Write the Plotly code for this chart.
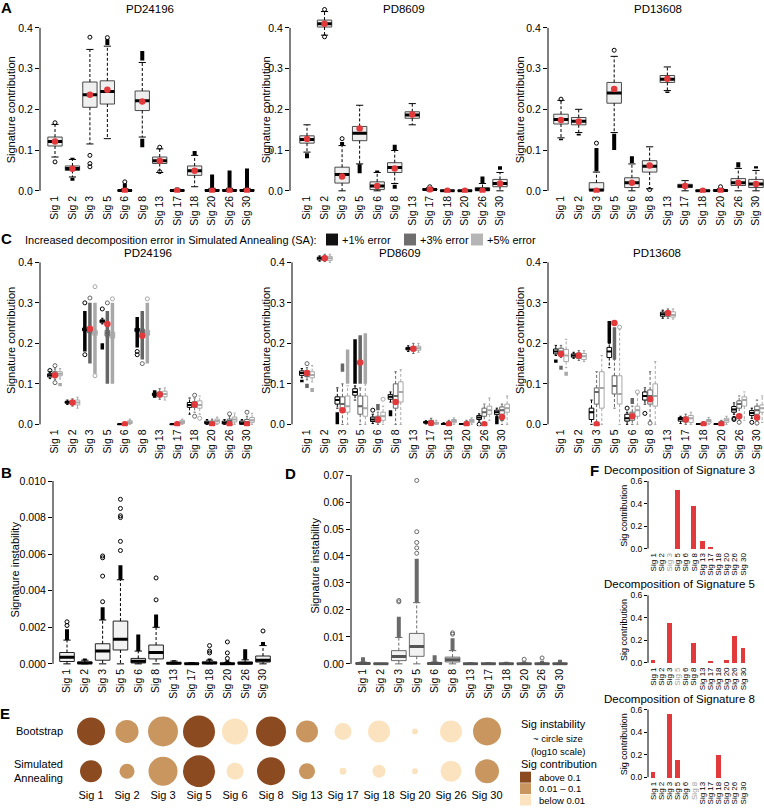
import math
import plotly.graph_objects as go

W, H = 764, 808
FONT = "Liberation Sans, Arial, Helvetica, sans-serif"

SIGS = ["Sig 1", "Sig 2", "Sig 3", "Sig 5", "Sig 6", "Sig 8", "Sig 13",
        "Sig 17", "Sig 18", "Sig 20", "Sig 26", "Sig 30"]

# ---------------- Panel A : bootstrap distributions (lo, q1, median, q3, hi)
A_PD24196 = [(0.083, 0.110, 0.121, 0.132, 0.163), (0.034, 0.050, 0.055, 0.061, 0.077),
             (0.115, 0.205, 0.236, 0.267, 0.347), (0.128, 0.213, 0.244, 0.270, 0.355),
             (0.0, 0.0, 0.0005, 0.002, 0.005), (0.132, 0.197, 0.221, 0.245, 0.315),
             (0.045, 0.067, 0.074, 0.083, 0.103), (0.0, 0.0, 0.0005, 0.002, 0.004),
             (0.010, 0.038, 0.049, 0.061, 0.087), (0.0, 0.0, 0.001, 0.003, 0.006),
             (0.0, 0.0, 0.001, 0.003, 0.006), (0.0, 0.0, 0.001, 0.003, 0.006)]
A_PD24196_DENSE = [[], [(0.025, 0.032), (0.078, 0.081)], [], [(0.358, 0.372)], [(0.006, 0.018)],
                   [(0.32, 0.343), (0.107, 0.128)], [], [(0.005, 0.008)], [(0.088, 0.098)],
                   [(0.007, 0.040)], [(0.007, 0.050)], [(0.007, 0.055)]]
A_PD24196_OUT = [[0.167, 0.071], [], [0.377, 0.087, 0.067, 0.059], [0.376], [0.022], [], [0.107, 0.047],
                 [], [], [], [], []]
A_PD24196_RED = [0.121, 0.054, 0.236, 0.248, 0.0, 0.219, 0.074, 0.0, 0.049, 0.0, 0.0, 0.0]

A_PD8609 = [(0.095, 0.117, 0.126, 0.135, 0.162), (0.382, 0.402, 0.410, 0.419, 0.440),
            (0.0, 0.019, 0.040, 0.058, 0.111), (0.066, 0.123, 0.141, 0.158, 0.210),
            (0.0, 0.003, 0.012, 0.022, 0.045), (0.018, 0.045, 0.057, 0.069, 0.099),
            (0.162, 0.178, 0.186, 0.194, 0.214), (0.0, 0.002, 0.003, 0.005, 0.008),
            (0.0, 0.0, 0.0003, 0.001, 0.002), (0.0, 0.0, 0.0003, 0.001, 0.002),
            (0.0, 0.0, 0.003, 0.008, 0.018), (0.0, 0.010, 0.018, 0.028, 0.045)]
A_PD8609_DENSE = [[(0.080, 0.092)], [], [(0.112, 0.120)], [(0.043, 0.065)], [(0.046, 0.050)],
                  [(0.100, 0.113), (0.005, 0.015)], [], [], [], [], [(0.019, 0.035)], [(0.052, 0.060)]]
A_PD8609_OUT = [[], [0.445, 0.378], [0.128], [], [], [], [], [0.010], [], [], [], []]
A_PD8609_RED = [0.127, 0.410, 0.035, 0.153, 0.012, 0.055, 0.187, 0.003, 0.0, 0.0, 0.0, 0.018]

A_PD13608 = [(0.130, 0.164, 0.175, 0.188, 0.222), (0.143, 0.162, 0.171, 0.180, 0.200),
             (0.0, 0.0, 0.002, 0.020, 0.046), (0.143, 0.215, 0.240, 0.266, 0.330),
             (0.0, 0.008, 0.020, 0.032, 0.066), (0.005, 0.046, 0.060, 0.074, 0.108),
             (0.246, 0.266, 0.274, 0.283, 0.304), (0.0, 0.008, 0.012, 0.016, 0.025),
             (0.0, 0.0, 0.0003, 0.001, 0.002), (0.0, 0.0, 0.0005, 0.002, 0.005),
             (0.0, 0.013, 0.020, 0.030, 0.055), (0.0, 0.008, 0.017, 0.028, 0.050)]
A_PD13608_DENSE = [[(0.124, 0.128)], [(0.136, 0.140)], [(0.048, 0.105)], [(0.100, 0.140)],
                   [(0.068, 0.085)], [], [(0.240, 0.244)], [], [], [], [(0.057, 0.070)], [(0.055, 0.060)]]
A_PD13608_OUT = [[0.225], [], [0.117], [0.345], [], [0.003], [], [], [], [0.010], [], []]
A_PD13608_RED = [0.174, 0.170, 0.0, 0.250, 0.020, 0.062, 0.275, 0.012, 0.0, 0.0, 0.020, 0.017]

# ---------------- Panel C : SA with increased error (+1%, +3%, +5%)
C_PD24196_1 = [(0.113, 0.117, 0.121, 0.125, 0.130), (0.049, 0.052, 0.055, 0.057, 0.060),
               (0.228, 0.231, 0.234, 0.238, 0.242), (0.248, 0.251, 0.255, 0.258, 0.262),
               (0.0, 0.0, 0.0, 0.001, 0.002), (0.226, 0.229, 0.233, 0.237, 0.241),
               (0.068, 0.071, 0.074, 0.077, 0.080), (0.0, 0.0, 0.0, 0.001, 0.002),
               (0.025, 0.042, 0.048, 0.054, 0.065), (0.0, 0.001, 0.004, 0.008, 0.012),
               (0.0, 0.001, 0.004, 0.008, 0.012), (0.0, 0.0, 0.003, 0.008, 0.012)]
C_PD24196_1_DENSE = [[], [], [(0.180, 0.280)], [(0.185, 0.200)], [], [(0.190, 0.265)],
                     [(0.066, 0.084)], [], [], [], [], []]
C_PD24196_1_OUT = [[0.133], [], [0.172, 0.300], [0.285], [], [0.172, 0.180], [], [], [], [], [], []]
C_PD24196_3 = [(0.110, 0.118, 0.124, 0.130, 0.137), (0.045, 0.050, 0.054, 0.058, 0.063),
               (0.215, 0.226, 0.232, 0.240, 0.250), (0.210, 0.218, 0.225, 0.232, 0.240),
               (0.0, 0.0, 0.001, 0.002, 0.004), (0.212, 0.222, 0.228, 0.235, 0.245),
               (0.062, 0.068, 0.074, 0.080, 0.088), (0.0, 0.0, 0.001, 0.003, 0.006),
               (0.030, 0.042, 0.049, 0.056, 0.065), (0.0, 0.001, 0.004, 0.008, 0.013),
               (0.0, 0.003, 0.008, 0.013, 0.020), (0.0, 0.002, 0.006, 0.012, 0.020)]
C_PD24196_3_DENSE = [[], [], [(0.150, 0.300)], [(0.100, 0.280)], [], [(0.160, 0.280)],
                     [], [], [], [], [], []]
C_PD24196_3_OUT = [[0.145, 0.103], [], [0.312], [0.300], [], [0.150], [], [], [0.020, 0.072], [], [0.026], [0.030]]
C_PD24196_5 = [(0.112, 0.120, 0.125, 0.130, 0.138), (0.040, 0.048, 0.054, 0.060, 0.067),
               (0.210, 0.220, 0.226, 0.232, 0.240), (0.205, 0.213, 0.220, 0.228, 0.235),
               (0.0, 0.002, 0.005, 0.009, 0.013), (0.210, 0.220, 0.226, 0.232, 0.240),
               (0.060, 0.068, 0.075, 0.082, 0.090), (0.0, 0.002, 0.006, 0.010, 0.013),
               (0.025, 0.040, 0.048, 0.058, 0.070), (0.0, 0.003, 0.008, 0.013, 0.018),
               (0.0, 0.006, 0.012, 0.018, 0.028), (0.0, 0.005, 0.010, 0.017, 0.027)]
C_PD24196_5_DENSE = [[(0.094, 0.102)], [], [(0.125, 0.300)], [(0.100, 0.300)], [], [(0.150, 0.300)],
                     [], [], [], [], [], []]
C_PD24196_5_OUT = [[], [], [0.340, 0.120], [0.310], [], [0.310], [], [], [0.015], [], [], []]

C_PD8609_1 = [(0.115, 0.121, 0.127, 0.132, 0.138), (0.403, 0.406, 0.410, 0.413, 0.416),
              (0.040, 0.050, 0.060, 0.068, 0.090), (0.060, 0.072, 0.080, 0.088, 0.095),
              (0.002, 0.007, 0.012, 0.018, 0.025), (0.055, 0.062, 0.068, 0.074, 0.080),
              (0.180, 0.184, 0.187, 0.190, 0.194), (0.001, 0.003, 0.005, 0.007, 0.009),
              (0.0, 0.0, 0.001, 0.002, 0.004), (0.0, 0.0, 0.001, 0.001, 0.002),
              (0.008, 0.012, 0.017, 0.022, 0.026), (0.020, 0.024, 0.030, 0.035, 0.040)]
C_PD8609_1_DENSE = [[(0.104, 0.110)], [], [(0.0, 0.030)], [(0.100, 0.210)], [], [(0.020, 0.035)],
                    [], [], [], [], [], [(0.0, 0.020)]]
C_PD8609_1_OUT = [[], [], [], [], [0.035], [], [], [], [], [], [0.0], []]
C_PD8609_3 = [(0.110, 0.118, 0.125, 0.132, 0.140), (0.402, 0.406, 0.410, 0.415, 0.420),
              (0.0, 0.035, 0.050, 0.068, 0.100), (0.0, 0.025, 0.045, 0.070, 0.090),
              (0.0, 0.005, 0.012, 0.020, 0.030), (0.0, 0.040, 0.070, 0.100, 0.130),
              (0.175, 0.182, 0.187, 0.192, 0.200), (0.0, 0.003, 0.006, 0.010, 0.015),
              (0.0, 0.001, 0.003, 0.006, 0.010), (0.0, 0.001, 0.003, 0.006, 0.010),
              (0.005, 0.020, 0.030, 0.040, 0.050), (0.0, 0.025, 0.035, 0.043, 0.050)]
C_PD8609_3_DENSE = [[(0.090, 0.100)], [], [(0.130, 0.150)], [(0.100, 0.220)], [(0.035, 0.050)], [],
                    [], [], [], [], [], [(0.008, 0.020)]]
C_PD8609_3_OUT = [[0.150], [], [], [], [], [], [], [], [], [], [], []]
C_PD8609_5 = [(0.105, 0.115, 0.122, 0.130, 0.145), (0.400, 0.405, 0.410, 0.415, 0.420),
              (0.0, 0.030, 0.045, 0.070, 0.095), (0.0, 0.020, 0.040, 0.070, 0.100),
              (0.0, 0.010, 0.020, 0.030, 0.045), (0.0, 0.055, 0.080, 0.105, 0.135),
              (0.178, 0.183, 0.188, 0.193, 0.200), (0.0, 0.001, 0.003, 0.005, 0.010),
              (0.0, 0.004, 0.008, 0.012, 0.016), (0.0, 0.004, 0.008, 0.012, 0.016),
              (0.010, 0.025, 0.035, 0.045, 0.065), (0.0, 0.030, 0.040, 0.050, 0.070)]
C_PD8609_5_DENSE = [[(0.080, 0.090)], [], [(0.100, 0.185)], [(0.100, 0.225)], [], [],
                    [], [], [], [], [], []]
C_PD8609_5_OUT = [[], [], [], [], [0.062], [], [], [], [], [], [], []]

C_PD13608_1 = [(0.170, 0.174, 0.180, 0.186, 0.195), (0.163, 0.166, 0.170, 0.174, 0.178),
               (0.0, 0.012, 0.030, 0.040, 0.060), (0.140, 0.165, 0.180, 0.190, 0.200),
               (0.0, 0.008, 0.015, 0.025, 0.030), (0.050, 0.060, 0.070, 0.080, 0.090),
               (0.262, 0.267, 0.272, 0.277, 0.282), (0.002, 0.008, 0.013, 0.017, 0.020),
               (0.0, 0.0, 0.001, 0.001, 0.002), (0.0, 0.0, 0.001, 0.001, 0.002),
               (0.025, 0.030, 0.037, 0.044, 0.053), (0.015, 0.022, 0.028, 0.034, 0.040)]
C_PD13608_1_DENSE = [[(0.152, 0.160)], [], [], [(0.200, 0.255)], [], [], [], [], [], [], [], []]
C_PD13608_1_OUT = [[], [], [], [], [0.040], [0.027], [], [], [], [], [0.015, 0.012], [0.005]]
C_PD13608_3 = [(0.165, 0.172, 0.180, 0.188, 0.195), (0.158, 0.163, 0.170, 0.176, 0.182),
               (0.0, 0.050, 0.080, 0.090, 0.130), (0.040, 0.075, 0.095, 0.120, 0.160),
               (0.0, 0.010, 0.020, 0.030, 0.045), (0.010, 0.050, 0.070, 0.085, 0.130),
               (0.262, 0.267, 0.273, 0.278, 0.285), (0.0, 0.006, 0.012, 0.018, 0.025),
               (0.0, 0.001, 0.002, 0.004, 0.006), (0.0, 0.002, 0.004, 0.007, 0.010),
               (0.010, 0.040, 0.050, 0.058, 0.070), (0.010, 0.025, 0.035, 0.045, 0.060)]
C_PD13608_3_DENSE = [[(0.135, 0.145)], [], [], [(0.160, 0.240)], [(0.050, 0.065)], [], [], [], [], [], [], []]
C_PD13608_3_OUT = [[], [], [], [], [], [0.003], [], [], [], [], [0.005], [0.003]]
C_PD13608_5 = [(0.140, 0.155, 0.170, 0.185, 0.210), (0.155, 0.160, 0.168, 0.175, 0.182),
               (0.0, 0.040, 0.090, 0.130, 0.170), (0.0, 0.050, 0.075, 0.120, 0.235),
               (0.0, 0.020, 0.035, 0.045, 0.075), (0.0, 0.045, 0.070, 0.100, 0.155),
               (0.260, 0.265, 0.270, 0.278, 0.285), (0.0, 0.005, 0.015, 0.022, 0.030),
               (0.0, 0.003, 0.008, 0.012, 0.017), (0.0, 0.005, 0.010, 0.015, 0.020),
               (0.010, 0.045, 0.060, 0.068, 0.080), (0.005, 0.030, 0.040, 0.048, 0.070)]
C_PD13608_5_DENSE = [[(0.120, 0.130)], [], [], [], [], [], [], [], [], [], [], []]
C_PD13608_5_OUT = [[], [], [], [0.240], [0.080], [], [], [], [], [], [], []]

# ---------------- Panel B : bootstrap signature instability
B_INST = [(0.0, 0.00013, 0.00036, 0.00062, 0.0013), (0.0, 0.00002, 0.00005, 0.0001, 0.0002),
          (0.0, 0.0002, 0.0007, 0.0011, 0.0024), (0.0, 0.00076, 0.00134, 0.00234, 0.0046),
          (0.0, 0.00005, 0.00015, 0.0003, 0.0007), (0.0, 0.00027, 0.00062, 0.00103, 0.0020),
          (0.0, 0.00001, 0.00003, 0.00007, 0.00015), (0.0, 0.0, 0.00001, 0.00003, 0.00006),
          (0.0, 0.00002, 0.00005, 0.0001, 0.0002), (0.0, 0.0, 0.00001, 0.00003, 0.00008),
          (0.0, 0.00001, 0.00004, 0.0001, 0.00022), (0.0, 0.0001, 0.0002, 0.00043, 0.0010)]
B_DENSE = [[(0.0013, 0.0019)], [(0.0002, 0.0003)], [(0.0024, 0.0031)], [(0.0046, 0.0054)],
           [(0.0007, 0.0016)], [(0.0020, 0.0027)], [(0.00015, 0.0002)], [(0.00006, 0.0001)],
           [(0.0002, 0.0003)], [(0.00008, 0.0002)], [(0.00022, 0.0008)], [(0.0010, 0.0012)]]
B_OUT = [[0.0021, 0.0023], [], [0.0034, 0.0048, 0.0058, 0.0059],
         [0.0062, 0.0067, 0.0080, 0.0081, 0.0085, 0.0090], [], [0.0035, 0.0047], [], [],
         [0.0006, 0.0007, 0.0010], [0.0003, 0.0006, 0.0012], [], [0.0018]]

# ---------------- Panel D : simulated annealing signature instability
D_INST = [(0.0, 0.00005, 0.0001, 0.0003, 0.0007), (0.0, 0.0, 0.00005, 0.0001, 0.0002),
          (0.0, 0.0012, 0.0027, 0.0049, 0.0098), (0.0, 0.0028, 0.0064, 0.0113, 0.0227),
          (0.0, 0.00005, 0.0001, 0.0003, 0.0007), (0.0, 0.0007, 0.0015, 0.0025, 0.0049),
          (0.0, 0.0, 0.00005, 0.0001, 0.0003), (0.0, 0.0, 0.00005, 0.0001, 0.0003),
          (0.0, 0.0, 0.00005, 0.0001, 0.0003), (0.0, 0.0, 0.00005, 0.0001, 0.0003),
          (0.0, 0.0, 0.00005, 0.0001, 0.0003), (0.0, 0.0, 0.00005, 0.0001, 0.0003)]
D_DENSE = [[(0.0007, 0.0025)], [], [(0.0098, 0.0175)], [(0.0227, 0.0390)], [(0.0007, 0.0032)],
           [(0.0049, 0.0095)], [(0.0003, 0.0006)], [(0.0003, 0.0006)], [(0.0003, 0.0008)],
           [(0.0003, 0.0010)], [(0.0003, 0.0012)], [(0.0003, 0.0015)]]
D_OUT = [[], [], [0.0230, 0.0235], [0.041, 0.043, 0.045, 0.049, 0.068], [], [0.0110, 0.0115],
         [], [], [], [0.0017], [0.0022], []]

# ---------------- Panel E : circles
E_ROWS = ["Bootstrap", "Simulated<br>Annealing"]
E_BOOT_INST = [4.3e-4, 1.1e-4, 7.5e-4, 1.3e-3, 2.5e-4, 7.5e-4, 8.2e-5, 2.1e-5, 8.2e-5, 1.0e-6, 8.2e-5, 4.3e-4]
E_SA_INST = [8.2e-5, 1.2e-5, 5.7e-4, 1.3e-3, 2.1e-5, 4.3e-4, 1.6e-5, 1.3e-6, 6.9e-6, 1.0e-6, 6.3e-5, 1.4e-4]
CAT_LEVELS = ["above 0.1", "0.01 \u2013 0.1", "below 0.01"]
E_BOOT_CAT = [0, 1, 1, 0, 2, 0, 1, 2, 2, 2, 2, 1]
E_SA_CAT = [0, 1, 1, 0, 2, 0, 1, 2, 2, 2, 2, 1]
CAT_COLORS = ["#8B4A20", "#C99660", "#FCE3BF"]

# ---------------- Panel F : decompositions
F_TITLES = ["Decomposition of Signature 3", "Decomposition of Signature 5", "Decomposition of Signature 8"]
F_HILITE = ["Sig 3", "Sig 5", "Sig 8"]
F_SIG3 = [0, 0, 0, 0.52, 0, 0.375, 0.065, 0.007, 0, 0, 0, 0]
F_SIG5 = [0.02, 0, 0.35, 0, 0, 0.17, 0, 0.01, 0, 0.025, 0.24, 0.125]
F_SIG8 = [0.045, 0, 0.56, 0.16, 0, 0, 0, 0, 0.2, 0, 0, 0]

# ======================================================================
fig = go.Figure()
axes = {}
shapes = []
annotations = []
NAX = [0]


def ann(text, x, y, size, xanchor="center", yanchor="middle", angle=0, color="black", align="center"):
    annotations.append(dict(text=text, x=x / W, y=1 - y / H, xref="paper", yref="paper",
                            showarrow=False, xanchor=xanchor, yanchor=yanchor, textangle=angle,
                            align=align, font=dict(family=FONT, size=size, color=color)))


def make_axes(x_left, x_right, x_first, x_last, y_top, y_bot, py0, v0, py1, v1,
              yticks, ytext, xtext=SIGS, xfont=10.5, yfont=10.5, n=12, axis_line=True, xangle=-90):
    NAX[0] += 1
    k = NAX[0]
    sx = "" if k == 1 else str(k)
    xs = (x_last - x_first) / (n - 1)
    xr = [-(x_first - x_left) / xs, (n - 1) + (x_right - x_last) / xs]
    ys = (py0 - py1) / (v1 - v0)
    yr = [v0 - (y_bot - py0) / ys, v1 + (py1 - y_top) / ys]
    axes["xaxis" + sx] = dict(domain=[x_left / W, x_right / W], range=xr, anchor="y" + sx,
                              showgrid=False, zeroline=False, showline=False, ticks="",
                              tickvals=list(range(n)), ticktext=xtext, tickangle=xangle,
                              tickfont=dict(family=FONT, size=xfont, color="black"))
    axes["yaxis" + sx] = dict(domain=[1 - y_bot / H, 1 - y_top / H], range=yr, anchor="x" + sx,
                              showgrid=False, zeroline=False, showline=False,
                              ticks="outside" if yticks else "", ticklen=4, tickwidth=1, tickcolor="black",
                              tickvals=yticks, ticktext=ytext,
                              tickfont=dict(family=FONT, size=yfont, color="black"))
    if axis_line:
        shapes.append(dict(type="line", xref="x" + sx + " domain", yref="y" + sx, x0=0, x1=0,
                           y0=v0, y1=v1, line=dict(color="black", width=1)))
    return "x" + sx, "y" + sx


def boxes(xa, ya, stats, pos, w, edge, fill, med, whisk, outc, dense, outs,
          lw=1.0, medw=3.0, densew=4.0, outsize=4):
    # whiskers (dashed) and staples
    wx, wy, cx, cy = [], [], [], []
    for p, s in zip(pos, stats):
        if s[4] > s[3]:
            wx += [p, p, None]
            wy += [s[3], s[4], None]
            cx += [p - w / 4, p + w / 4, None]
            cy += [s[4], s[4], None]
        if s[0] < s[1]:
            wx += [p, p, None]
            wy += [s[1], s[0], None]
            cx += [p - w / 4, p + w / 4, None]
            cy += [s[0], s[0], None]
    if wx:
        fig.add_trace(go.Scatter(x=wx, y=wy, mode="lines", xaxis=xa, yaxis=ya, hoverinfo="skip",
                                 line=dict(color=whisk, width=1, dash="3px,2px"), showlegend=False))
        fig.add_trace(go.Scatter(x=cx, y=cy, mode="lines", xaxis=xa, yaxis=ya, hoverinfo="skip",
                                 line=dict(color=whisk, width=1), showlegend=False))
    # dense outlier clusters
    dx, dy = [], []
    for p, d in zip(pos, dense):
        for (a, b) in d:
            dx += [p, p, None]
            dy += [a, b, None]
    if dx:
        fig.add_trace(go.Scatter(x=dx, y=dy, mode="lines", xaxis=xa, yaxis=ya, hoverinfo="skip",
                                 line=dict(color=outc, width=densew), showlegend=False))
    # single outliers
    ox, oy = [], []
    for p, o in zip(pos, outs):
        for v in o:
            ox.append(p)
            oy.append(v)
    if ox:
        fig.add_trace(go.Scatter(x=ox, y=oy, mode="markers", xaxis=xa, yaxis=ya, hoverinfo="skip",
                                 marker=dict(symbol="circle-open", size=outsize, color=outc,
                                             line=dict(width=1, color=outc)), showlegend=False))
    # boxes
    fig.add_trace(go.Box(x=pos, q1=[s[1] for s in stats], median=[s[2] for s in stats],
                         q3=[s[3] for s in stats], lowerfence=[s[1] for s in stats],
                         upperfence=[s[3] for s in stats], width=w, fillcolor=fill,
                         line=dict(color=edge, width=lw), boxpoints=False, whiskerwidth=0,
                         xaxis=xa, yaxis=ya, hoverinfo="skip", showlegend=False))
    # thick medians
    mx, my = [], []
    for p, s in zip(pos, stats):
        mx += [p - w / 2, p + w / 2, None]
        my += [s[2], s[2], None]
    fig.add_trace(go.Scatter(x=mx, y=my, mode="lines", xaxis=xa, yaxis=ya, hoverinfo="skip",
                             line=dict(color=med, width=medw), showlegend=False))


def red_dots(xa, ya, vals):
    fig.add_trace(go.Scatter(x=list(range(len(vals))), y=vals, mode="markers", xaxis=xa, yaxis=ya,
                             hoverinfo="skip", marker=dict(color="#E2393C", size=6.5), showlegend=False))


POS = list(range(12))
CONTRIB_TICKS = [0, 0.1, 0.2, 0.3, 0.4]
CONTRIB_TEXT = ["0.0", "0.1", "0.2", "0.3", "0.4"]

# ---------------- Panel A
A_SETS = [("PD24196", A_PD24196, A_PD24196_DENSE, A_PD24196_OUT, A_PD24196_RED, (40, 258, 55, 247), 150, 11),
          ("PD8609", A_PD8609, A_PD8609_DENSE, A_PD8609_OUT, A_PD8609_RED, (290, 510, 307, 500), 404, 266),
          ("PD13608", A_PD13608, A_PD13608_DENSE, A_PD13608_OUT, A_PD13608_RED, (548, 764, 561, 756), 658, 520)]
for name, st, de, ou, rd, xp, tx, lx in A_SETS:
    xa, ya = make_axes(xp[0], xp[1], xp[2], xp[3], 3, 193, 191, 0.0, 27, 0.4, CONTRIB_TICKS, CONTRIB_TEXT)
    boxes(xa, ya, st, POS, 0.82, "#4a4a4a", "#EFEFEF", "black", "black", "black", de, ou)
    red_dots(xa, ya, rd)
    ann(name, tx, 8, 11.5)
    ann("Signature contribution", lx, 110, 11, angle=-90)

# ---------------- Panel C
C_LEVEL_STYLE = [(-0.29, "#000000", "#FFFFFF"), (0.0, "#666666", "#FFFFFF"), (0.29, "#A8A8A8", "#FFFFFF")]
C_SETS = [("PD24196", [(C_PD24196_1, C_PD24196_1_DENSE, C_PD24196_1_OUT),
                       (C_PD24196_3, C_PD24196_3_DENSE, C_PD24196_3_OUT),
                       (C_PD24196_5, C_PD24196_5_DENSE, C_PD24196_5_OUT)], A_PD24196_RED,
           (40, 258, 55, 247), 148, 11),
          ("PD8609", [(C_PD8609_1, C_PD8609_1_DENSE, C_PD8609_1_OUT),
                      (C_PD8609_3, C_PD8609_3_DENSE, C_PD8609_3_OUT),
                      (C_PD8609_5, C_PD8609_5_DENSE, C_PD8609_5_OUT)], A_PD8609_RED,
           (292, 512, 307, 502), 400, 266),
          ("PD13608", [(C_PD13608_1, C_PD13608_1_DENSE, C_PD13608_1_OUT),
                       (C_PD13608_3, C_PD13608_3_DENSE, C_PD13608_3_OUT),
                       (C_PD13608_5, C_PD13608_5_DENSE, C_PD13608_5_OUT)], A_PD13608_RED,
           (548, 764, 561, 757), 657, 520)]
for name, levels, rd, xp, tx, lx in C_SETS:
    xa, ya = make_axes(xp[0], xp[1], xp[2], xp[3], 247, 428, 426, 0.0, 263, 0.4, CONTRIB_TICKS, CONTRIB_TEXT)
    for (st, de, ou), (off, col, fill) in zip(levels, C_LEVEL_STYLE):
        pos = [p + off for p in POS]
        boxes(xa, ya, st, pos, 0.26, col, fill, col, col, col, de, ou, lw=1.0, medw=2.0, densew=3.5, outsize=4)
    red_dots(xa, ya, rd)
    ann(name, tx, 254, 11.5)
    ann("Signature contribution", lx, 342, 11, angle=-90)

# C legend
ann("Increased decomposition error in Simulated Annealing (SA):", 23, 240, 11, xanchor="left")
for x0, col, lab in [(326, "#111111", "+1% error"), (404, "#6E6E6E", "+3% error"), (471, "#B5B5B5", "+5% error")]:
    shapes.append(dict(type="rect", xref="paper", yref="paper", x0=x0 / W, x1=(x0 + 12) / W,
                       y0=1 - 246 / H, y1=1 - 234 / H, fillcolor=col, line=dict(width=0)))
    ann(lab, x0 + 14, 240, 11, xanchor="left")

# ---------------- Panel B
B_TICKS = [0, 0.002, 0.004, 0.006, 0.008, 0.010]
B_TEXT = ["0.000", "0.002", "0.004", "0.006", "0.008", "0.010"]
xa, ya = make_axes(53, 275, 67, 263, 470, 669, 667, 0.0, 483, 0.010, B_TICKS, B_TEXT)
boxes(xa, ya, B_INST, POS, 0.82, "#222222", "#F2F2F2", "black", "black", "black", B_DENSE, B_OUT)
ann("Signature instability", 15, 572, 11, angle=-90)

# ---------------- Panel D
D_TICKS = [0, 0.01, 0.02, 0.03, 0.04, 0.05, 0.06, 0.07]
D_TEXT = ["0.00", "0.01", "0.02", "0.03", "0.04", "0.05", "0.06", "0.07"]
xa, ya = make_axes(351, 572, 363, 560, 470, 669, 667, 0.0, 477, 0.07, D_TICKS, D_TEXT)
boxes(xa, ya, D_INST, POS, 0.82, "#6A6A6A", "#F2F2F2", "#555555", "#6A6A6A", "#6A6A6A", D_DENSE, D_OUT)
ann("Signature instability", 315, 568, 11, angle=-90)

# ---------------- Panel E
xa, ya = make_axes(70, 505, 91, 487, 712, 791, 775, 0, 735, 1, [], [], xfont=11, n=12,
                   axis_line=False, xangle=0)
axes["yaxis" + xa[1:]]["showticklabels"] = False


def circle_size(v):
    return 6 + 8.35 * (math.log10(v) + 6)


for row_y, inst, cat in [(1, E_BOOT_INST, E_BOOT_CAT), (0, E_SA_INST, E_SA_CAT)]:
    fig.add_trace(go.Scatter(x=POS, y=[row_y] * 12, mode="markers", xaxis=xa, yaxis=ya, hoverinfo="skip",
                             marker=dict(size=[circle_size(v) for v in inst],
                                         color=[CAT_COLORS[c] for c in cat], line=dict(width=0), opacity=1),
                             showlegend=False))
ann(E_ROWS[0], 65, 735, 11, xanchor="right")
ann(E_ROWS[1], 65, 775, 11, xanchor="right", align="right")

# E legend
ann("Sig instability", 519, 728, 11, xanchor="left")
ann("~ circle size", 531, 742, 9.5, xanchor="left")
ann("(log10 scale)", 529, 755, 9.5, xanchor="left")
ann("Sig contribution", 519, 768, 11, xanchor="left")
for i, lab in enumerate(CAT_LEVELS):
    yc = 781 + i * 11.5
    shapes.append(dict(type="rect", xref="paper", yref="paper", x0=520 / W, x1=531 / W,
                       y0=1 - (yc + 5.5) / H, y1=1 - (yc - 5.5) / H, fillcolor=CAT_COLORS[i], line=dict(width=0)))
    ann(lab, 537, yc, 9.5, xanchor="left")

# ---------------- Panel F
F_TICKS = [0, 0.2, 0.4, 0.6]
F_TEXT = ["0.0", "0.2", "0.4", "0.6"]
F_GEOM = [(472, 483, 551), (587, 598, 666), (702, 713, 781)]
for title, hil, vals, (ty, p06, p0) in zip(F_TITLES, F_HILITE, [F_SIG3, F_SIG5, F_SIG8], F_GEOM):
    xt = [('<span style="color:#A0A0A0">%s</span>' % s) if s == hil else s for s in SIGS]
    xa, ya = make_axes(648, 752, 653, 743, p06 - 4, p0 + 2, p0, 0.0, p06, 0.6, F_TICKS, F_TEXT,
                       xtext=xt, xfont=8, yfont=8.5)
    axes["yaxis" + xa[1:]]["ticklen"] = 3
    fig.add_trace(go.Bar(x=POS, y=vals, width=0.6, marker=dict(color="#E2393C", line=dict(width=0)),
                         xaxis=xa, yaxis=ya, hoverinfo="skip", showlegend=False))
    ann(title, 679, ty, 11.5)
    ann("Sig contribution", 624, (p06 + p0) / 2 + 1, 9, angle=-90)

# ---------------- panel letters
for letter, x, y in [("A", 6, 7), ("C", 6, 239), ("B", 7, 474), ("D", 290, 475), ("E", 5, 717), ("F", 594, 472)]:
    annotations.append(dict(text="<b>%s</b>" % letter, x=x / W, y=1 - y / H, xref="paper", yref="paper",
                            showarrow=False, xanchor="center", yanchor="middle",
                            font=dict(family=FONT, size=15, color="black")))

fig.update_layout(width=W, height=H, autosize=False, margin=dict(l=0, r=0, t=0, b=0, pad=0),
                  paper_bgcolor="white", plot_bgcolor="white", showlegend=False,
                  boxmode="overlay", bargap=0, shapes=shapes, annotations=annotations,
                  font=dict(family=FONT, size=11, color="black"), **axes)

fig.write_html("out.html", config={"displayModeBar": False},
               post_script="document.body.style.margin='0';")
